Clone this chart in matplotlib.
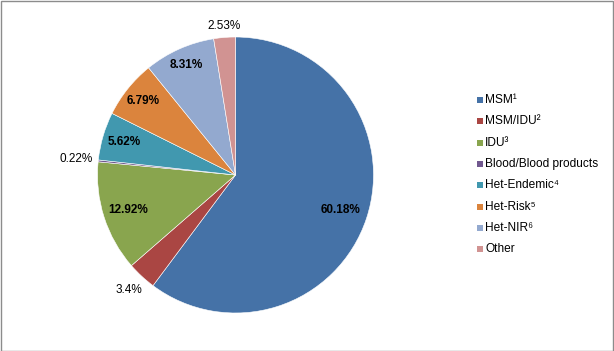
import matplotlib
matplotlib.use("Agg")
import matplotlib.pyplot as plt
from matplotlib.patches import Rectangle
import numpy as np

categories = ["MSM\u00b9", "MSM/IDU\u00b2", "IDU\u00b3", "Blood/Blood products",
              "Het-Endemic\u2074", "Het-Risk\u2075", "Het-NIR\u2076", "Other"]
values = [60.18, 3.4, 12.92, 0.22, 5.62, 6.79, 8.31, 2.53]
value_labels = ["60.18%", "3.4%", "12.92%", "0.22%", "5.62%", "6.79%", "8.31%", "2.53%"]
colors = ["#4572A7", "#AA4643", "#89A54E", "#71588F",
          "#4198AF", "#DB843D", "#93A9CF", "#D19392"]
label_outside = [False, True, False, True, False, False, False, True]
label_dist = [0.80, 1.14, 0.82, 1.16, 0.84, 0.855, 0.87, 1.08]

plt.rcParams['font.family'] = ['Liberation Sans', 'DejaVu Sans']

W, H = 614, 351
fig = plt.figure(figsize=(W / 100, H / 100), dpi=100)
fig.patch.set_facecolor("white")

# border
fig.patches.append(Rectangle((0.5 / W, 0.5 / H), 1 - 1.5 / W, 1 - 1.5 / H,
                             transform=fig.transFigure, fill=False,
                             edgecolor="#8c8c8c", linewidth=1.0))

cx, cy, r = 235.5, 175, 138
ax = fig.add_axes([(cx - r) / W, (H - cy - r) / H, 2 * r / W, 2 * r / H])
wedges, _ = ax.pie(values, colors=colors, startangle=90, counterclock=False,
                   radius=1.0, wedgeprops=dict(edgecolor="white", linewidth=0.4))
ax.set_xlim(-1, 1)
ax.set_ylim(-1, 1)
ax.set_aspect("equal")
ax.axis("off")

for w, lab, out, d in zip(wedges, value_labels, label_outside, label_dist):
    ang = np.deg2rad((w.theta1 + w.theta2) / 2)
    ax.text(d * np.cos(ang), d * np.sin(ang), lab, ha="center", va="center",
            fontsize=8.5, fontweight="normal" if out else "bold", color="black")

# legend
y0, dy = 100, 21.3
for i, (c, lab) in enumerate(zip(colors, categories)):
    y = y0 + i * dy
    fig.patches.append(Rectangle((476.5 / W, (H - y - 3) / H), 6 / W, 6 / H,
                                 transform=fig.transFigure, facecolor=c,
                                 edgecolor="none"))
    fig.text(485 / W, (H - y) / H, lab, ha="left", va="center", fontsize=8.6,
             color="black")

fig.savefig("out.png", dpi=100)
